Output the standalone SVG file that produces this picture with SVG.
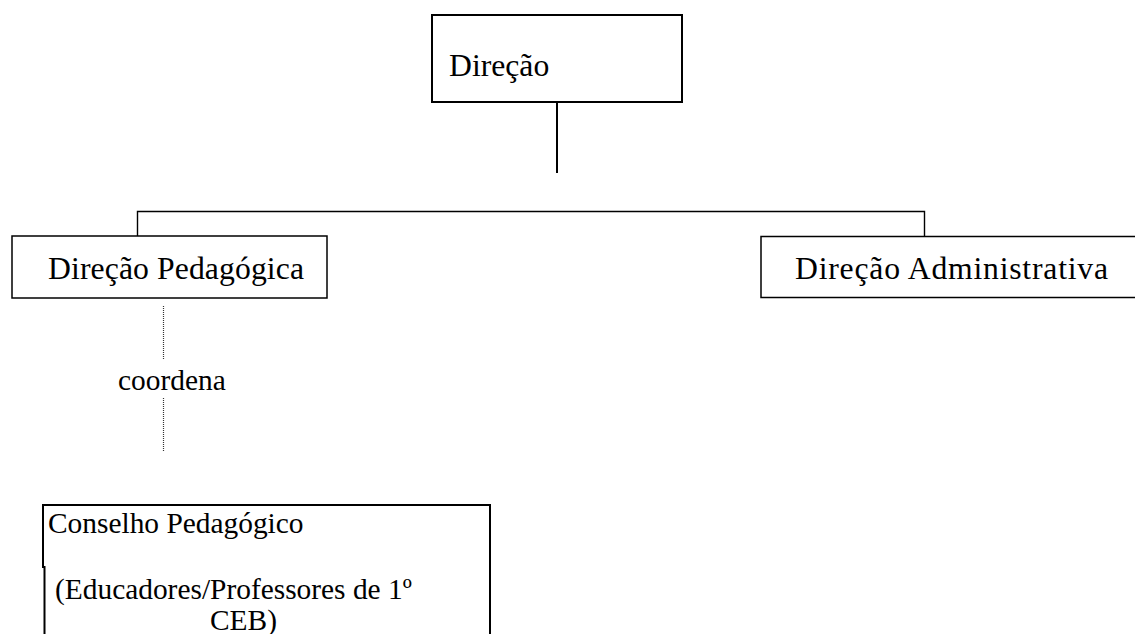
<svg xmlns="http://www.w3.org/2000/svg" width="1135" height="634" viewBox="0 0 1135 634">
<style>
text{font-family:"Liberation Serif","Times New Roman",serif;fill:#000}
.big{font-size:31.7px}
.mid{font-size:29.4px}
.box{fill:#fff;stroke:#000}
.conn{fill:none;stroke:#000}
.dot{stroke:#333;stroke-width:1.2;stroke-dasharray:1 1}
</style>
<rect width="1135" height="634" fill="#fff"/>
<g id="connectors">
<line class="conn" x1="557" y1="102" x2="557" y2="173" stroke-width="2"/>
<polyline class="conn" points="137.5,236 137.5,211.5 924.5,211.5 924.5,236" stroke-width="1.4"/>
<line class="dot" x1="163.5" y1="306" x2="163.5" y2="359"/>
<line class="dot" x1="163.5" y1="398" x2="163.5" y2="452"/>
<text id="label-coordena" class="mid" x="118" y="390">coordena</text>
</g>
<g id="node-direcao">
<rect class="box" x="432" y="15" width="250" height="87" stroke-width="2"/>
<text class="big" x="449" y="76">Direção</text>
</g>
<g id="node-direcao-pedagogica">
<rect class="box" x="12" y="236" width="315" height="62" stroke-width="1.5"/>
<text class="big" x="48" y="279" textLength="256" lengthAdjust="spacing">Direção Pedagógica</text>
</g>
<g id="node-direcao-administrativa">
<rect class="box" x="761" y="236.5" width="380" height="61" stroke-width="1.5"/>
<text class="big" x="795" y="279" textLength="313" lengthAdjust="spacing">Direção Administrativa</text>
</g>
<g id="node-conselho-pedagogico">
<path d="M44.5,640 L44.5,567 L43,567 L43,505 L490,505 L490,640" fill="none" stroke="#000" stroke-width="2"/>
<text class="mid" x="48" y="533">Conselho Pedagógico</text>
<text class="mid" x="55" y="599">(Educadores/Professores de 1º</text>
<text class="mid" x="210" y="630">CEB)</text>
</g>
</svg>
